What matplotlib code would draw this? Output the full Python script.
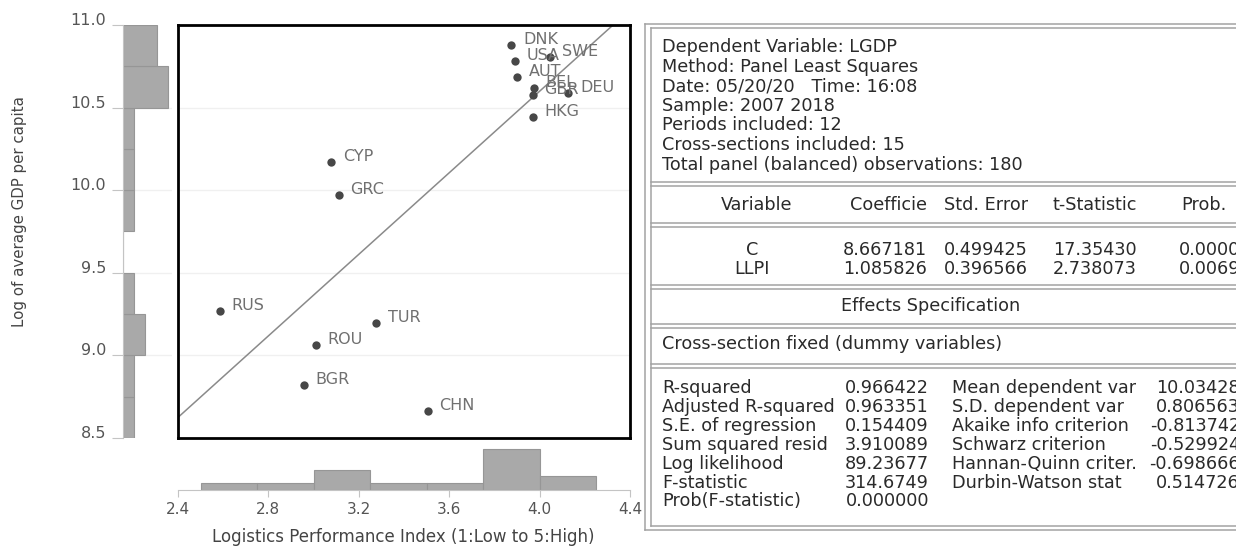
import numpy as np
import matplotlib
matplotlib.use("Agg")
import matplotlib.pyplot as plt
from matplotlib.lines import Line2D
from matplotlib.transforms import ScaledTranslation

# scatter data
countries = ['DNK', 'USA', 'SWE', 'AUT', 'BEL', 'GBR', 'DEU', 'HKG',
             'CYP', 'GRC', 'RUS', 'TUR', 'ROU', 'BGR', 'CHN']
lpi = [3.875, 3.892, 4.048, 3.902, 3.976, 3.969, 4.127, 3.969,
       3.077, 3.111, 2.584, 3.277, 3.011, 2.956, 3.506]
lgdp = [10.879, 10.782, 10.808, 10.683, 10.617, 10.576, 10.587, 10.441,
        10.173, 9.971, 9.269, 9.194, 9.061, 8.819, 8.663]

fit_intercept = 5.663
fit_slope = 1.234

x_ticks = [2.4, 2.8, 3.2, 3.6, 4.0, 4.4]
y_ticks = [8.5, 9.0, 9.5, 10.0, 10.5, 11.0]
x_bins = [2.5, 2.75, 3.0, 3.25, 3.5, 3.75, 4.0, 4.25]
y_bins = [8.5, 8.75, 9.0, 9.25, 9.5, 9.75, 10.0, 10.25, 10.5, 10.75, 11.0]

# regression output table
header_lines = [
    "Dependent Variable: LGDP",
    "Method: Panel Least Squares",
    "Date: 05/20/20   Time: 16:08",
    "Sample: 2007 2018",
    "Periods included: 12",
    "Cross-sections included: 15",
    "Total panel (balanced) observations: 180",
]
coef_cols = ["Variable", "Coefficie", "Std. Error", "t-Statistic", "Prob."]
coef_rows = [
    ["C", "8.667181", "0.499425", "17.35430", "0.0000"],
    ["LLPI", "1.085826", "0.396566", "2.738073", "0.0069"],
]
stats_left = [
    ("R-squared", "0.966422"),
    ("Adjusted R-squared", "0.963351"),
    ("S.E. of regression", "0.154409"),
    ("Sum squared resid", "3.910089"),
    ("Log likelihood", "89.23677"),
    ("F-statistic", "314.6749"),
    ("Prob(F-statistic)", "0.000000"),
]
stats_right = [
    ("Mean dependent var", "10.03428"),
    ("S.D. dependent var", "0.806563"),
    ("Akaike info criterion", "-0.813742"),
    ("Schwarz criterion", "-0.529924"),
    ("Hannan-Quinn criter.", "-0.698666"),
    ("Durbin-Watson stat", "0.514726"),
]

plt.rcParams['font.family'] = ['DejaVu Sans']

W, H = 1236, 546
fig = plt.figure(figsize=(W / 100, H / 100), dpi=100)


def box(l, t, r, b):
    return [l / W, 1 - b / H, (r - l) / W, (b - t) / H]


def fx(x):
    return x / W


def fy(y):
    return 1 - y / H


bar_col = '#a9a9a9'
bar_edge = '#969696'
axis_col = '#c4c4c4'
tick_txt = '#555555'

# main scatter
ax = fig.add_axes(box(178, 25, 630, 438))
ax.set_xlim(x_ticks[0], x_ticks[-1])
ax.set_ylim(y_ticks[0], y_ticks[-1])
for yv in y_ticks[1:-1]:
    ax.axhline(yv, color='#f0f0f0', lw=1, zorder=0)
ax.axline((x_ticks[0], fit_intercept + fit_slope * x_ticks[0]), slope=fit_slope,
          color='#8a8a8a', lw=1.1, zorder=1)
ax.scatter(lpi, lgdp, s=36, color='#474747', zorder=3, linewidths=0)
for name, xv, yv in zip(countries, lpi, lgdp):
    ax.annotate(name, (xv, yv), xytext=(8.4, 4.0), textcoords='offset points',
                fontsize=11.5, color='#707070', va='center', ha='left', zorder=4)
for sp in ax.spines.values():
    sp.set_linewidth(2)
    sp.set_color('black')
ax.set_xticks([])
ax.set_yticks([])

# left histogram (y)
axl = fig.add_axes(box(123, 25, 172, 438))
axl.set_axisbelow(True)
axl.hist(lgdp, bins=y_bins, orientation='horizontal', color=bar_col,
         edgecolor=bar_edge, lw=0.8)
axl.set_ylim(y_ticks[0], y_ticks[-1])
axl.set_xlim(0, 4.36)
for yv in y_ticks[1:-1]:
    axl.axhline(yv, color='#f0f0f0', lw=1, zorder=0)
for s in ['top', 'right', 'bottom']:
    axl.spines[s].set_visible(False)
axl.spines['left'].set_color(axis_col)
axl.set_xticks([])
axl.set_yticks(y_ticks)
axl.set_yticklabels([f"{v:.1f}" for v in y_ticks])
axl.tick_params(axis='y', length=8, color=axis_col, labelsize=11.5,
                labelcolor=tick_txt, pad=4)
up = ScaledTranslation(0, 0.06, fig.dpi_scale_trans)
for lab in axl.get_yticklabels():
    lab.set_transform(lab.get_transform() + up)

# bottom histogram (x)
axb = fig.add_axes(box(178, 445, 630, 490))
axb.hist(lpi, bins=x_bins, color=bar_col, edgecolor=bar_edge, lw=0.8)
axb.set_xlim(x_ticks[0], x_ticks[-1])
axb.set_ylim(0, 6.6)
for s in ['top', 'right', 'left']:
    axb.spines[s].set_visible(False)
axb.spines['bottom'].set_color(axis_col)
axb.set_yticks([])
axb.set_xticks(x_ticks)
axb.set_xticklabels([f"{v:.1f}" for v in x_ticks])
axb.tick_params(axis='x', length=5, color=axis_col, labelsize=11,
                labelcolor=tick_txt, pad=4)

fig.text(fx(403), fy(542), "Logistics Performance Index (1:Low to 5:High)",
         ha='center', va='baseline', fontsize=12, color='#444444')
fig.text(fx(20), fy(212), "Log of average GDP per capita", rotation=90,
         ha='center', va='center', fontsize=10.8, color='#444444')

# regression output table
line_col = '#a3a3a3'
txt_col = '#2a2a2a'
tfs = 12.7


def hline(y, x0=651, x1=1240, lw=1.1):
    fig.add_artist(Line2D([fx(x0), fx(x1)], [fy(y), fy(y)], color=line_col,
                          lw=lw, transform=fig.transFigure))


def vline(x, y0, y1, lw=1.1):
    fig.add_artist(Line2D([fx(x), fx(x)], [fy(y0), fy(y1)], color=line_col,
                          lw=lw, transform=fig.transFigure))


hline(24, 645)
hline(28)
hline(526)
hline(530, 645)
vline(645, 24, 530)
vline(651, 28, 526)
for y in [182, 223, 285, 324, 364]:
    hline(y)
    hline(y + 4)


def ttext(x, y, s, ha='left'):
    fig.text(fx(x), fy(y), s, ha=ha, va='baseline', fontsize=tfs, color=txt_col)


for i, s in enumerate(header_lines):
    ttext(662, 52 + 19.6 * i, s)

col_x = [757, 927, 1028, 1137, 1181]
col_ha = ['center', 'right', 'right', 'right', 'left']
for s, x, ha in zip(coef_cols, col_x, col_ha):
    ttext(x, 210, s, ha)
val_x = [752, 927, 1028, 1137, 1240]
val_ha = ['center', 'right', 'right', 'right', 'right']
for r, row in enumerate(coef_rows):
    for s, x, ha in zip(row, val_x, val_ha):
        ttext(x, 255 + 18.5 * r, s, ha)

ttext(931, 311, "Effects Specification", 'center')
ttext(662, 349, "Cross-section fixed (dummy variables)")

for i, (lab, val) in enumerate(stats_left):
    ttext(662, 393 + 18.9 * i, lab)
    ttext(929, 393 + 18.9 * i, val, 'right')
for i, (lab, val) in enumerate(stats_right):
    ttext(952, 393 + 18.9 * i, lab)
    ttext(1240, 393 + 18.9 * i, val, 'right')

fig.savefig("out.png", dpi=100)
